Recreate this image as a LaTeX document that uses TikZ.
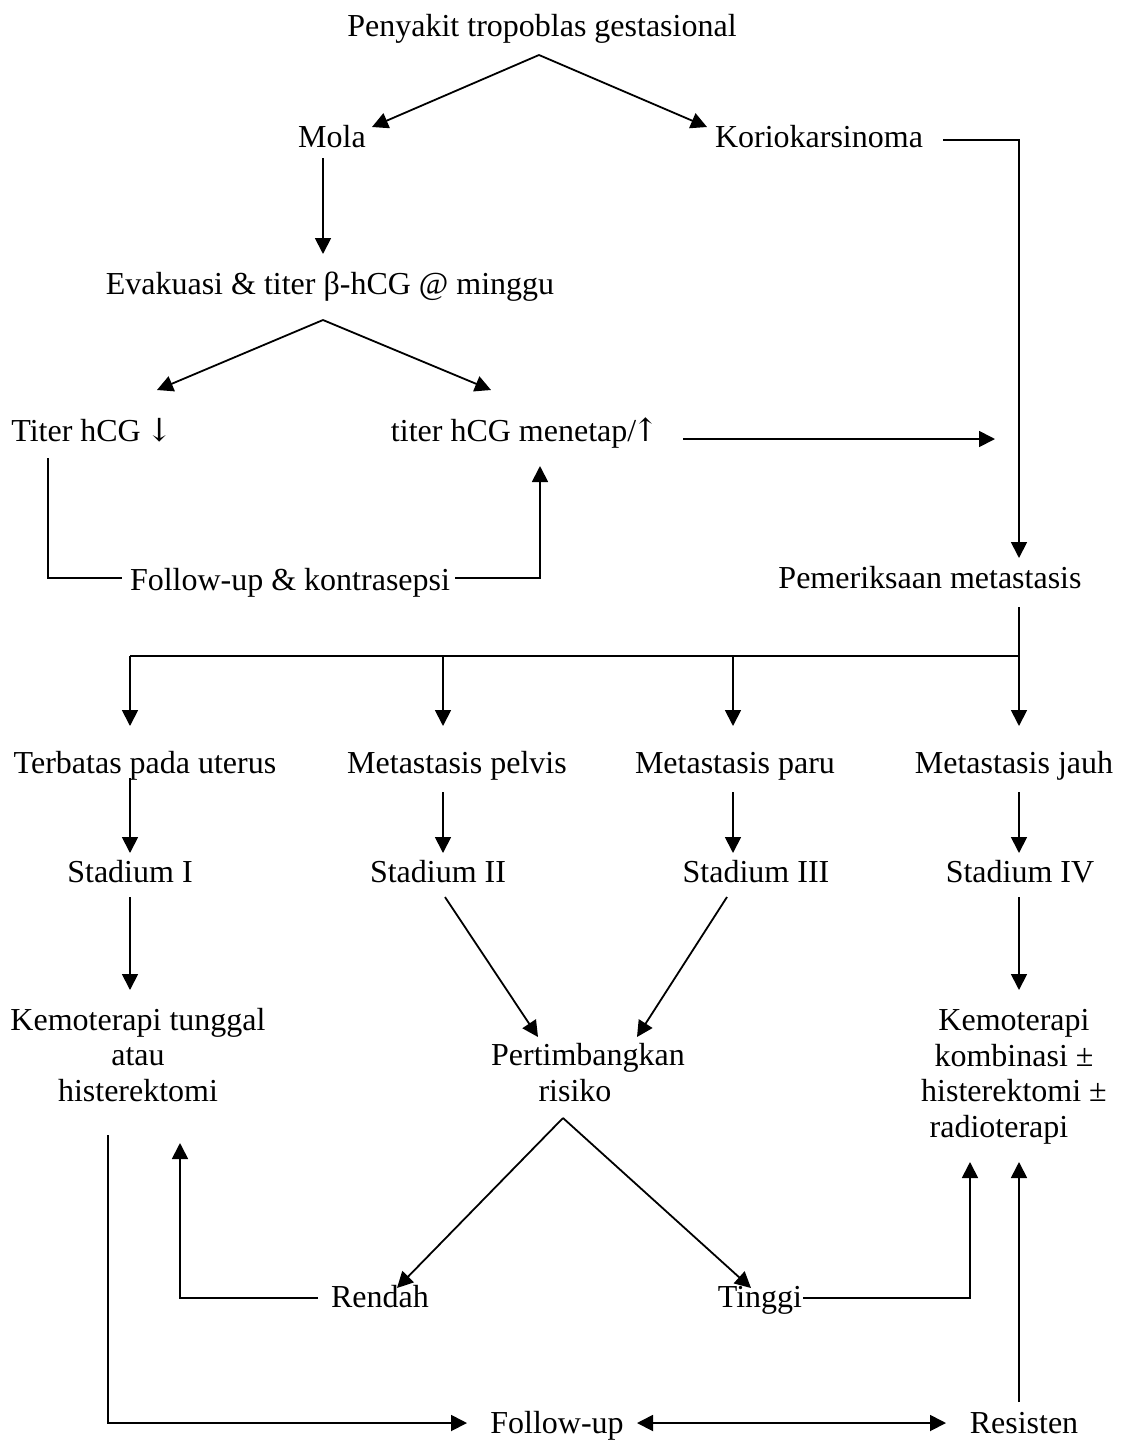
\documentclass[tikz,border=0pt]{standalone}
\usepackage{fontspec}
\setmainfont{Liberation Serif}
\newfontfamily\arrowfont{DejaVu Serif}
\usetikzlibrary{arrows.meta}
\begin{document}
\begin{tikzpicture}[x=1pt,y=1pt,
  lbl/.style={inner sep=0pt, anchor=base, font=\fontsize{32}{35.5}\selectfont, align=center},
  ln/.style={line width=1.8pt},
  arr/.style={ln, -{Triangle[length=16pt,width=16pt]}},
  darr/.style={ln, {Triangle[length=16pt,width=16pt]}-{Triangle[length=16pt,width=16pt]}}]
\useasboundingbox (0,0) rectangle (1121,-1441);
\fill[white] (0,0) rectangle (1121,-1441);

% nodes
\node[lbl] (P)  at (542,-36)  {Penyakit tropoblas gestasional};
\node[lbl] (M)  at (332,-147) {Mola};
\node[lbl] (K)  at (819,-147) {Koriokarsinoma};
\node[lbl] (E)  at (330,-294) {Evakuasi \& titer β-hCG @ minggu};
\node[lbl] (TD) at (90,-441)  {Titer hCG {\arrowfont\kern-3pt↓\kern-4pt}};
\node[lbl] (TU) at (523,-441) {titer hCG menetap/{\arrowfont\kern-4pt↑\kern-4pt}};
\node[lbl] (FK) at (290,-590) {Follow-up \& kontrasepsi};
\node[lbl] (PM) at (930,-588) {Pemeriksaan metastasis};
\node[lbl] (T1) at (145,-773) {Terbatas pada uterus};
\node[lbl] (T2) at (457,-773) {Metastasis pelvis};
\node[lbl] (T3) at (735,-773) {Metastasis paru};
\node[lbl] (T4) at (1014,-773) {Metastasis jauh};
\node[lbl] (S1) at (130,-882) {Stadium I};
\node[lbl] (S2) at (438,-882) {Stadium II};
\node[lbl] (S3) at (756,-882) {Stadium III};
\node[lbl] (S4) at (1020,-882) {Stadium IV};
\node[lbl] (K1) at (138,-1101) {Kemoterapi tunggal\\atau\hspace*{26pt}\\histerektomi};
\node[lbl] (PR) at (588,-1101) {Pertimbangkan\\risiko\hspace*{26pt}};
\node[lbl] (K4) at (1014,-1137) {Kemoterapi\\kombinasi ±\\histerektomi ±\\radioterapi\hspace*{30pt}};
\node[lbl] (RE) at (380,-1307) {Rendah};
\node[lbl] (TI) at (760,-1307) {Tinggi};
\node[lbl] (FU) at (557,-1433) {Follow-up};
\node[lbl] (RS) at (1024,-1433) {Resisten};
\coordinate (tuend) at (995,-439);

% connectors
\draw[arr] ([shift={(-3pt,-19pt)}]P.base) -- ([shift={(40pt,20pt)}]M.base);
\draw[arr] ([shift={(-3pt,-19pt)}]P.base) -- ([shift={(-112pt,20pt)}]K.base);
\draw[arr] ([shift={(-9pt,-11pt)}]M.base) -- ([shift={(-7pt,40pt)}]E.base);
\draw[arr] ([shift={(-7pt,-26pt)}]E.base) -- ([shift={(67pt,51pt)}]TD.base);
\draw[arr] ([shift={(-7pt,-26pt)}]E.base) -- ([shift={(-32pt,51pt)}]TU.base);
\draw[ln]  ([shift={(-42pt,-17pt)}]TD.base) |- ([shift={(-168pt,12pt)}]FK.base);
\draw[arr] ([shift={(165pt,12pt)}]FK.base) -| ([shift={(17pt,-25pt)}]TU.base);
\draw[arr] ([shift={(160pt,2pt)}]TU.base) -- (tuend);
\draw[arr] ([shift={(124pt,7pt)}]K.base) -| ([shift={(89pt,30pt)}]PM.base);

\draw[ln]  ([shift={(89pt,-19pt)}]PM.base) |- ([shift={(-15pt,117pt)}]T1.base);
\draw[arr] ([shift={(-15pt,117pt)}]T1.base) -- ([shift={(-15pt,47pt)}]T1.base);
\draw[arr] ([shift={(-14pt,117pt)}]T2.base) -- ([shift={(-14pt,47pt)}]T2.base);
\draw[arr] ([shift={(-2pt,117pt)}]T3.base) -- ([shift={(-2pt,47pt)}]T3.base);
\draw[arr] ([shift={(5pt,117pt)}]T4.base) -- ([shift={(5pt,47pt)}]T4.base);

\draw[arr] ([shift={(-15pt,-5pt)}]T1.base) -- ([shift={(0pt,29pt)}]S1.base);
\draw[arr] ([shift={(-14pt,-19pt)}]T2.base) -- ([shift={(5pt,29pt)}]S2.base);
\draw[arr] ([shift={(-2pt,-19pt)}]T3.base) -- ([shift={(-23pt,29pt)}]S3.base);
\draw[arr] ([shift={(5pt,-19pt)}]T4.base) -- ([shift={(-1pt,29pt)}]S4.base);

\draw[arr] ([shift={(0pt,-15pt)}]S1.base) -- ([shift={(-8pt,111pt)}]K1.base);
\draw[arr] ([shift={(7pt,-15pt)}]S2.base) -- ([shift={(-50pt,64pt)}]PR.base);
\draw[arr] ([shift={(-29pt,-15pt)}]S3.base) -- ([shift={(49pt,64pt)}]PR.base);
\draw[arr] ([shift={(-1pt,-15pt)}]S4.base) -- ([shift={(5pt,147pt)}]K4.base);

\draw[arr] ([shift={(-25pt,-17pt)}]PR.base) -- ([shift={(17pt,19pt)}]RE.base);
\draw[arr] ([shift={(-25pt,-17pt)}]PR.base) -- ([shift={(-9pt,19pt)}]TI.base);
\draw[arr] ([shift={(-62pt,9pt)}]RE.base) -| ([shift={(42pt,-42pt)}]K1.base);
\draw[arr] ([shift={(43pt,9pt)}]TI.base) -| ([shift={(-44pt,-25pt)}]K4.base);
\draw[arr] ([shift={(-30pt,-34pt)}]K1.base) |- ([shift={(-90pt,10pt)}]FU.base);
\draw[darr] ([shift={(80pt,10pt)}]FU.base) -- ([shift={(-78pt,10pt)}]RS.base);
\draw[arr] ([shift={(-5pt,31pt)}]RS.base) -- ([shift={(5pt,-25pt)}]K4.base);
\end{tikzpicture}
\end{document}
